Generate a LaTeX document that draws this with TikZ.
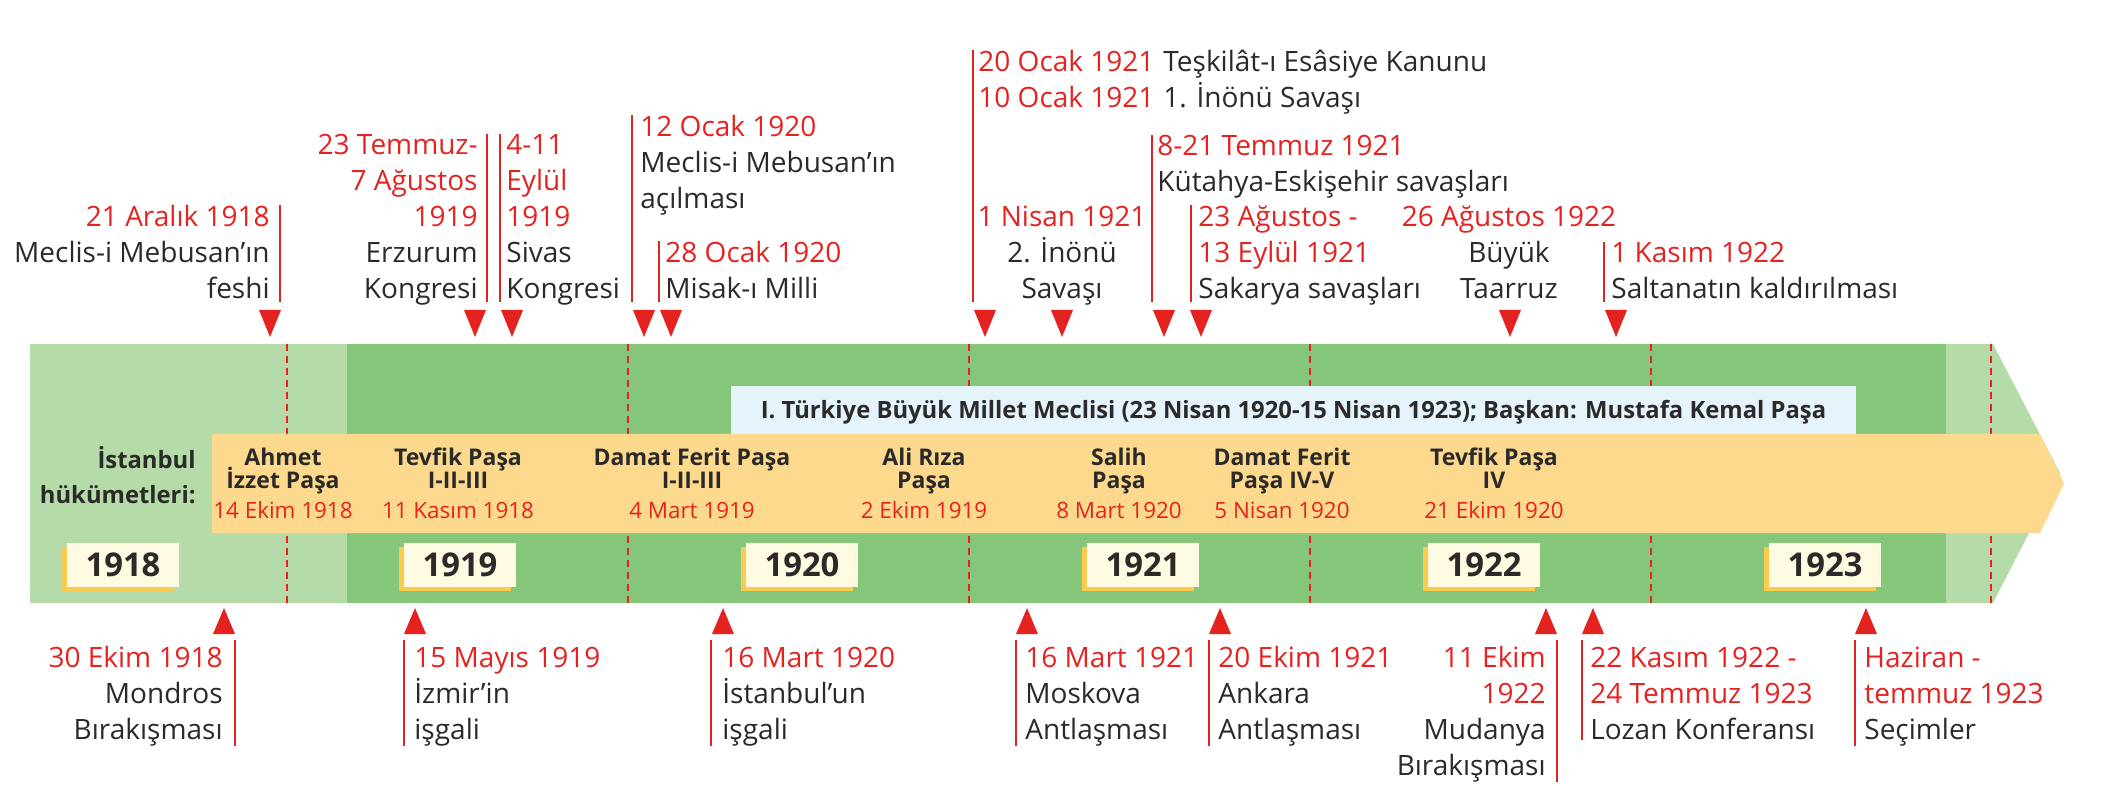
\documentclass[tikz,border=0pt]{standalone}
\usepackage{fontspec}
\setmainfont{Open Sans}
\definecolor{bandlight}{HTML}{B5DBA9}
\definecolor{banddark}{HTML}{85C67B}
\definecolor{govband}{HTML}{FDD98D}
\definecolor{tbmmblue}{HTML}{E5F4FC}
\definecolor{yearbg}{HTML}{FFFBE3}
\definecolor{yearshadow}{HTML}{FBCB4F}
\definecolor{evred}{HTML}{E42320}
\definecolor{evtext}{HTML}{2B2A29}
\newcommand{\tarih}[1]{{\color{evred}#1}}
\tikzset{
  evtxt/.style={inner sep=0pt, text=evtext, font=\fontsize{14}{18}\selectfont},
  evline/.style={draw=evred, line width=0.8pt},
  govname/.style={inner sep=0pt, text=evtext, align=center, font=\bfseries\fontsize{11.5}{11.5}\selectfont},
  govdate/.style={inner sep=0pt, text=evred, font=\fontsize{11.2}{14}\selectfont},
  yearbox/.style={fill=yearbg, minimum width=56pt, minimum height=22pt, inner sep=0pt,
    text height=11.5pt, text depth=0pt, text=evtext, font=\bfseries\fontsize{16.4}{18}\selectfont,
    preaction={fill=yearshadow, transform canvas={xshift=-2.5pt, yshift=-2.2pt}}},
  yeardash/.style={draw=evred, line width=0.7pt, dash pattern=on 3.5pt off 2.5pt},
  tridown/.pic={\fill[evred] (-11,-27) -- (11,-27) -- (0,0) -- cycle;},
  triup/.pic={\fill[evred] (-11,26) -- (11,26) -- (0,0) -- cycle;},
}
\begin{document}
\begin{tikzpicture}[x=0.5pt, y=-0.5pt]
  \useasboundingbox (0,0) rectangle (2122,786);

  % --- band ---
  \fill[bandlight] (30,344) -- (1993,344) -- (2060,473) -- (1993,603) -- (30,603) -- cycle;
  \fill[banddark] (347,344) rectangle (1946,603);
  \foreach \x in {287,628,969,1310,1651,1991}
    \draw[yeardash] (\x,344) -- (\x,603);

  % --- TBMM ---
  \node[fill=tbmmblue, minimum width=562.5pt, minimum height=24pt, inner sep=0pt,
    text height=8.5pt, text depth=0pt, text=evtext, font=\bfseries\fontsize{11.9}{13}\selectfont]
    (tbmm) at (1293.5,410) {I. Türkiye Büyük Millet Meclisi (23 Nisan 1920-15 Nisan 1923); Başkan: Mustafa Kemal Paşa};

  % --- hükümetler ---
  \fill[govband] (212,434) -- (2040,434) -- (2064,483.5) -- (2040,533) -- (212,533) -- cycle;
  \node[govname, align=right, anchor=base east, font=\bfseries\fontsize{11.9}{17.5}\selectfont]
    (istgov) at (196,503) {İstanbul\\hükümetleri:};
  \node[govname, anchor=base] (g1) at (283,488) {Ahmet\\İzzet Paşa};
  \node[govdate, anchor=base] (g1d) at (283,518) {14 Ekim 1918};
  \node[govname, anchor=base] (g2) at (458,488) {Tevfik Paşa\\I-II-III};
  \node[govdate, anchor=base] (g2d) at (458,518) {11 Kasım 1918};
  \node[govname, anchor=base] (g3) at (692,488) {Damat Ferit Paşa\\I-II-III};
  \node[govdate, anchor=base] (g3d) at (692,518) {4 Mart 1919};
  \node[govname, anchor=base] (g4) at (924,488) {Ali Rıza\\Paşa};
  \node[govdate, anchor=base] (g4d) at (924,518) {2 Ekim 1919};
  \node[govname, anchor=base] (g5) at (1119,488) {Salih\\Paşa};
  \node[govdate, anchor=base] (g5d) at (1119,518) {8 Mart 1920};
  \node[govname, anchor=base] (g6) at (1282,488) {Damat Ferit\\Paşa IV-V};
  \node[govdate, anchor=base] (g6d) at (1282,518) {5 Nisan 1920};
  \node[govname, anchor=base] (g7) at (1494,488) {Tevfik Paşa\\IV};
  \node[govdate, anchor=base] (g7d) at (1494,518) {21 Ekim 1920};

  % --- yıllar ---
  \node[yearbox] (y1918) at (123,565) {1918};
  \node[yearbox] (y1919) at (460,565) {1919};
  \node[yearbox] (y1920) at (802,565) {1920};
  \node[yearbox] (y1921) at (1143,565) {1921};
  \node[yearbox] (y1922) at (1484,565) {1922};
  \node[yearbox] (y1923) at (1825,565) {1923};

  % --- üst olaylar ---
  \pic at (270,337) {tridown};
  \coordinate (t1) at (280,302);
  \node[evtxt, align=right, anchor=base east] (ev1) at (270,298.5)
    {\tarih{21 Aralık 1918}\\Meclis-i Mebusan’ın\\feshi};
  \draw[evline] (t1) -- (t1 |- ev1.north);

  \pic at (475,337) {tridown};
  \coordinate (t2) at (487,302);
  \node[evtxt, align=right, anchor=base east] (ev2) at (478,298.5)
    {\tarih{23 Temmuz-}\\\tarih{7 Ağustos}\\\tarih{1919}\\Erzurum\\Kongresi};
  \draw[evline] (t2) -- (t2 |- ev2.north);

  \pic at (512,337) {tridown};
  \coordinate (t3) at (500,302);
  \node[evtxt, align=left, anchor=base west] (ev3) at (506,298.5)
    {\tarih{4-11}\\\tarih{Eylül}\\\tarih{1919}\\Sivas\\Kongresi};
  \draw[evline] (t3) -- (t3 |- ev3.north);

  \pic at (644,337) {tridown};
  \coordinate (t4) at (632,302);
  \node[evtxt, align=left, anchor=base west] (ev4) at (640,208.5)
    {\tarih{12 Ocak 1920}\\Meclis-i Mebusan’ın\\açılması};
  \draw[evline] (t4) -- (t4 |- ev4.north);

  \pic at (671,337) {tridown};
  \coordinate (t5) at (659,302);
  \node[evtxt, align=left, anchor=base west] (ev5) at (665,298.5)
    {\tarih{28 Ocak 1920}\\Misak-ı Milli};
  \draw[evline] (t5) -- (t5 |- ev5.north);

  \pic at (985,337) {tridown};
  \coordinate (t6) at (973,302);
  \node[evtxt, align=left, anchor=base west] (ev6d) at (978,107.5)
    {\tarih{20 Ocak 1921}\\\tarih{10 Ocak 1921}};
  \node[evtxt, align=left, anchor=base west] (ev6) at (1163,107.5)
    {Teşkilât-ı Esâsiye Kanunu\\1. İnönü Savaşı};
  \draw[evline] (t6) -- (t6 |- ev6d.north);

  \pic at (1062,337) {tridown};
  \node[evtxt, align=center, anchor=base] (ev7) at (1062,298.5)
    {\tarih{1 Nisan 1921}\\2. İnönü\\Savaşı};

  \pic at (1164,337) {tridown};
  \coordinate (t8) at (1152,302);
  \node[evtxt, align=left, anchor=base west] (ev8) at (1157,191.5)
    {\tarih{8-21 Temmuz 1921}\\Kütahya-Eskişehir savaşları};
  \draw[evline] (t8) -- (t8 |- ev8.north);

  \pic at (1201,337) {tridown};
  \coordinate (t9) at (1191,302);
  \node[evtxt, align=left, anchor=base west] (ev9) at (1198,298.5)
    {\tarih{23 Ağustos -}\\\tarih{13 Eylül 1921}\\Sakarya savaşları};
  \draw[evline] (t9) -- (t9 |- ev9.north);

  \pic at (1510,337) {tridown};
  \node[evtxt, align=center, anchor=base] (ev10) at (1509,298.5)
    {\tarih{26 Ağustos 1922}\\Büyük\\Taarruz};

  \pic at (1616,337) {tridown};
  \coordinate (t11) at (1604,302);
  \node[evtxt, align=left, anchor=base west] (ev11) at (1611,298.5)
    {\tarih{1 Kasım 1922}\\Saltanatın kaldırılması};
  \draw[evline] (t11) -- (t11 |- ev11.north);

  % --- alt olaylar ---
  \pic at (224,608) {triup};
  \coordinate (b1) at (235,640);
  \node[evtxt, align=right, anchor=base east] (bv1) at (223,739)
    {\tarih{30 Ekim 1918}\\Mondros\\Bırakışması};
  \draw[evline] (b1) -- (b1 |- bv1.south);

  \pic at (415,608) {triup};
  \coordinate (b2) at (404,640);
  \node[evtxt, align=left, anchor=base west] (bv2) at (414,739)
    {\tarih{15 Mayıs 1919}\\İzmir’in\\işgali};
  \draw[evline] (b2) -- (b2 |- bv2.south);

  \pic at (723,608) {triup};
  \coordinate (b3) at (711,640);
  \node[evtxt, align=left, anchor=base west] (bv3) at (722,739)
    {\tarih{16 Mart 1920}\\İstanbul’un\\işgali};
  \draw[evline] (b3) -- (b3 |- bv3.south);

  \pic at (1027,608) {triup};
  \coordinate (b4) at (1016,640);
  \node[evtxt, align=left, anchor=base west] (bv4) at (1025,739)
    {\tarih{16 Mart 1921}\\Moskova\\Antlaşması};
  \draw[evline] (b4) -- (b4 |- bv4.south);

  \pic at (1220,608) {triup};
  \coordinate (b5) at (1209,640);
  \node[evtxt, align=left, anchor=base west] (bv5) at (1218,739)
    {\tarih{20 Ekim 1921}\\Ankara\\Antlaşması};
  \draw[evline] (b5) -- (b5 |- bv5.south);

  \pic at (1546,608) {triup};
  \coordinate (b6) at (1557,640);
  \node[evtxt, align=right, anchor=base east] (bv6) at (1546,775)
    {\tarih{11 Ekim}\\\tarih{1922}\\Mudanya\\Bırakışması};
  \draw[evline] (b6) -- (b6 |- bv6.south);

  \pic at (1593,608) {triup};
  \coordinate (b7) at (1582,640);
  \node[evtxt, align=left, anchor=base west] (bv7) at (1590,739)
    {\tarih{22 Kasım 1922 -}\\\tarih{24 Temmuz 1923}\\Lozan Konferansı};
  \draw[evline] (b7) -- (b7 |- bv7.south);

  \pic at (1866,608) {triup};
  \coordinate (b8) at (1855,640);
  \node[evtxt, align=left, anchor=base west] (bv8) at (1864,739)
    {\tarih{Haziran -}\\\tarih{temmuz 1923}\\Seçimler};
  \draw[evline] (b8) -- (b8 |- bv8.south);

\end{tikzpicture}
\end{document}
